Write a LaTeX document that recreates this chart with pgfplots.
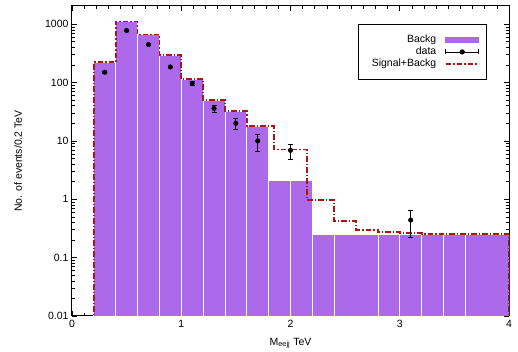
\documentclass[border=0pt]{standalone}
\usepackage{fontspec}
\setmainfont{Liberation Sans}
\usepackage{pgfplots}
\pgfplotsset{compat=1.18}
\definecolor{backg}{RGB}{172,105,234}
\definecolor{sigred}{RGB}{175,20,20}
\begin{document}
\begin{tikzpicture}[font=\fontsize{10.5}{12}\selectfont]
\begin{axis}[
  scale only axis, width=437pt, height=310pt,
  xmin=0, xmax=4, ymode=log, ymin=0.01, ymax=2050, log origin=infty,
  xtick={0,1,2,3,4}, minor x tick num=8,
  ytick={0.01,0.1,1,10,100,1000}, yticklabels={0.01,0.1,1,10,100,1000},
  /pgf/number format/assume math mode=true,
  tick align=inside, major tick length=5pt, minor tick length=3pt,
  tick style={black, line width=0.6pt},
  axis line style={line width=1pt},
  xticklabel style={yshift=-1pt},
  xlabel={M\textsubscript{eejj} TeV},
  ylabel={No. of events/0.2 TeV},
  xlabel style={at={([yshift=-27pt]axis description cs:0.5,0)}, anchor=center},
  ylabel style={at={([xshift=-54pt]axis description cs:0,0.5)}, anchor=center},
  legend plot pos=right,
  legend cell align=right,
  legend style={at={(1,1)}, anchor=north east, xshift=-22pt, yshift=-18pt,
    draw=black, line width=0.8pt, inner xsep=7pt, inner ysep=10pt,
    nodes={inner sep=0.4pt, text height=8pt, text depth=2.9pt},
    /tikz/every odd column/.append style={column sep=2.5pt, nodes={inner xsep=6pt}}},
]
% legend entries
\addlegendimage{legend image code/.code={\fill[backg] (0pt,-2.5pt) rectangle (33pt,2.5pt);}}
\addlegendentry{Backg}
\addlegendimage{legend image code/.code={
  \draw[black, line width=0.8pt] (0pt,0pt) -- (33pt,0pt);
  \draw[black, line width=0.8pt] (0pt,-2.5pt) -- (0pt,2.5pt);
  \draw[black, line width=0.8pt] (33pt,-2.5pt) -- (33pt,2.5pt);
  \fill[black] (16.5pt,0pt) circle (2.2pt);}}
\addlegendentry{data}
\addlegendimage{legend image code/.code={
  \draw[draw=sigred, line width=1.8pt, dash pattern=on 5.5pt off 2pt on 1.5pt off 2pt] (0pt,0pt) -- (33pt,0pt);}}
\addlegendentry{Signal+Backg}

% Background histogram
\addplot[ybar interval, fill=backg, draw=white, line width=0.8pt, forget plot] coordinates {
  (0.2,223) (0.4,1110) (0.6,665) (0.8,294) (1.0,115) (1.2,49.7) (1.4,32.2)
  (1.6,18) (1.8,2.12) (2.0,2.12) (2.2,0.25) (2.4,0.25) (2.8,0.25) (3.0,0.25)
  (3.2,0.25) (3.4,0.25) (3.6,0.25) (4.0,0.25)
};
% Signal + background
\addplot[const plot, draw=sigred, line width=1.8pt, dash pattern=on 5.5pt off 2pt on 1.5pt off 2pt, forget plot] coordinates {
  (0.2,0.005) (0.2,223) (0.4,1110) (0.6,665) (0.8,294) (1.0,115) (1.2,49.7)
  (1.4,32.2) (1.6,18) (1.85,7.1) (2.15,0.97) (2.4,0.42) (2.6,0.30) (2.8,0.275)
  (3.0,0.265) (3.2,0.258) (3.4,0.255) (4.0,0.255) (4.0,0.005)
};
% data
\addplot[only marks, mark=*, black, mark size=2.3pt, forget plot,
  error bars/.cd, y dir=both, y explicit,
  error bar style={black, line width=0.8pt},
  error mark options={rotate=90, black, mark size=2.5pt, line width=0.8pt}]
  table[x=x, y=y, y error plus=ep, y error minus=em] {
  x    y     ep    em
  0.3  150   4     4
  0.5  780   15    15
  0.7  448   10    10
  0.9  185   5     5
  1.1  97    6     6
  1.3  36    5     5
  1.5  20    4.3   4.5
  1.7  10    2.9   3.4
  2.0  6.9   1.8   2.0
  3.1  0.44  0.21  0.22
};
\end{axis}
\pgfresetboundingbox
\path[use as bounding box] (current axis.south west) ++(-72pt,-36pt) rectangle ++(518pt,352pt);
\end{tikzpicture}
\end{document}
